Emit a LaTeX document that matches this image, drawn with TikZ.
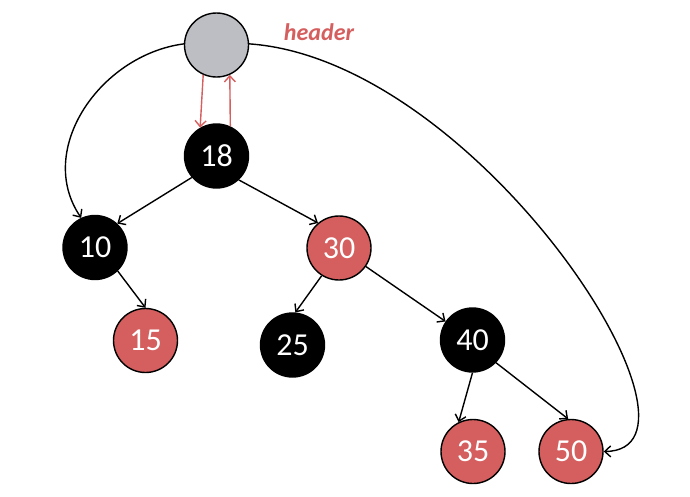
\documentclass[tikz,border=0pt]{standalone}
\usepackage{fontspec}
\setmainfont{Carlito}
\usetikzlibrary{arrows.meta}
\definecolor{rbred}{HTML}{D55E5E}
\definecolor{hdgray}{HTML}{BCBEC3}
\tikzset{
  nd/.style={circle, draw=black, line width=1.4pt, minimum size=64pt, inner sep=0pt, text=white, font=\fontsize{32}{34}\selectfont},
  blk/.style={nd, fill=black},
  rd/.style={nd, fill=rbred},
  hdr/.style={nd, fill=hdgray},
  edge/.style={line width=1.4pt, -{Straight Barb[length=6pt,width=11pt,line width=1.4pt]}},
  redge/.style={edge, draw=rbred}
}
\begin{document}
\begin{tikzpicture}[x=1pt,y=-1pt]
\useasboundingbox (0,0) rectangle (690,496);
\node[hdr] (h) at (216.5,45) {};
\node[text=rbred, font=\fontsize{24}{26}\selectfont\bfseries\itshape] (ht) at (319,32) {header};
\node[blk] (n18) at (216.5,156) {18};
\node[blk] (n10) at (95,247.5) {10};
\node[rd] (n30) at (339,248) {30};
\node[rd] (n15) at (145.5,340.5) {15};
\node[blk] (n25) at (292.5,345) {25};
\node[blk] (n40) at (472.5,340) {40};
\node[rd] (n35) at (473,451.5) {35};
\node[rd] (n50) at (571,451.5) {50};
\draw[redge] (h.246) -- (n18.120);
\draw[redge] (n18.65) -- (h.294);
\draw[edge] (n18.221) -- (n10.47);
\draw[edge] (n18.313) -- (n30.130);
\draw[edge] (n10.314) -- (n15.north);
\draw[edge] (n30.238) -- (n25.85);
\draw[edge] (n30) -- (n40);
\draw[edge] (n40.south) -- (n35.116);
\draw[edge] (n40.316) -- (n50.95);
\draw[edge] (h.178) .. controls (100,55) and (35,150) .. (n10.115);
\draw[edge] (h.2) .. controls (480,60) and (730,450) .. (n50.east);
\end{tikzpicture}
\end{document}
